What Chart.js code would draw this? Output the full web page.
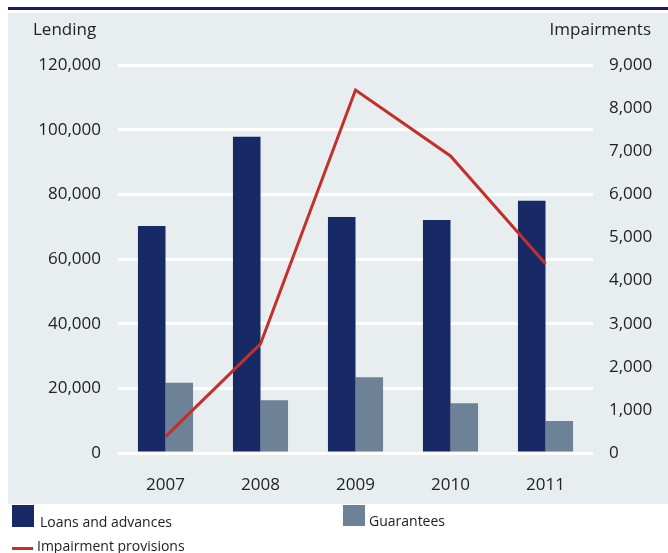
<!DOCTYPE html>
<html>
<head>
<meta charset="utf-8">
<script src="https://cdn.jsdelivr.net/npm/chart.js@4.4.0/dist/chart.umd.min.js"></script>
<style>
  html, body { margin: 0; padding: 0; background: #fff; }
  #wrap { position: relative; width: 668px; height: 553px; }
</style>
</head>
<body>
<div id="wrap"><canvas id="lendingChart" width="668" height="553"></canvas></div>
<script>
// Chart data
const years = ['2007', '2008', '2009', '2010', '2011'];
const loansAndAdvances = [70200, 97800, 73000, 72100, 78000];
const guarantees = [21700, 16300, 23400, 15400, 9900];
const impairmentProvisions = [380, 2530, 8420, 6890, 4390];
const lendingTicks = [0, 20000, 40000, 60000, 80000, 100000, 120000];
const impairmentTicks = [0, 1000, 2000, 3000, 4000, 5000, 6000, 7000, 8000, 9000];

const FONT = '"Open Sans", "Noto Sans", sans-serif';
const TEXT = '#222';
const NAVY = '#172a65';
const SLATE = '#6d8297';
const RED = '#c3302b';

// background panel, top rule, axis titles and legend
const decorPlugin = {
    id: 'decor',
    beforeDraw(chart) {
        const ctx = chart.ctx;
        ctx.save();
        ctx.fillStyle = '#fff';
        ctx.fillRect(0, 0, chart.width, chart.height);
        ctx.fillStyle = '#1c1b6f';
        ctx.fillRect(8, 7, 660, 3);
        ctx.fillStyle = '#e8edf0';
        ctx.fillRect(8, 13, 660, 491);
        ctx.restore();
    },
    afterDraw(chart) {
        const ctx = chart.ctx;
        ctx.save();
        ctx.fillStyle = TEXT;
        ctx.font = '17px ' + FONT;
        ctx.textBaseline = 'alphabetic';
        ctx.textAlign = 'left';
        ctx.fillText('Lending', 33, 35);
        ctx.textAlign = 'right';
        ctx.fillText('Impairments', 651, 35);

        const ds = chart.data.datasets;
        ctx.font = '14px ' + FONT;
        ctx.textAlign = 'left';
        ctx.fillStyle = ds[1].backgroundColor;
        ctx.fillRect(12, 505, 22, 22);
        ctx.fillStyle = TEXT;
        ctx.fillText(ds[1].label, 40, 527);
        ctx.fillStyle = ds[2].backgroundColor;
        ctx.fillRect(343, 505, 22, 21);
        ctx.fillStyle = TEXT;
        ctx.fillText(ds[2].label, 369, 526);
        ctx.fillStyle = ds[0].borderColor;
        ctx.fillRect(12, 547, 21, 3);
        ctx.fillStyle = TEXT;
        ctx.fillText(ds[0].label, 37, 551);
        ctx.restore();
    }
};

const ctxEl = document.getElementById('lendingChart').getContext('2d');
const chart = new Chart(ctxEl, {
    data: {
        labels: years,
        datasets: [
            {
                type: 'line',
                label: 'Impairment provisions',
                data: impairmentProvisions,
                yAxisID: 'y1',
                borderColor: RED,
                borderWidth: 3,
                pointRadius: 0,
                tension: 0,
                order: 0
            },
            {
                type: 'bar',
                label: 'Loans and advances',
                data: loansAndAdvances,
                yAxisID: 'y',
                backgroundColor: NAVY,
                categoryPercentage: 0.58,
                barPercentage: 1,
                order: 1
            },
            {
                type: 'bar',
                label: 'Guarantees',
                data: guarantees,
                yAxisID: 'y',
                backgroundColor: SLATE,
                categoryPercentage: 0.58,
                barPercentage: 1,
                order: 1
            }
        ]
    },
    options: {
        responsive: false,
        animation: false,
        layout: { padding: { top: 65, bottom: 49, left: 0, right: 0 } },
        plugins: {
            legend: { display: false },
            tooltip: { enabled: false }
        },
        scales: {
            x: {
                grid: { display: false, drawTicks: false },
                border: { display: false },
                ticks: { color: TEXT, font: { family: FONT, size: 17 }, padding: 22 },
                afterFit: s => { s.height = 51; }
            },
            y: {
                position: 'left',
                min: 0,
                max: 120000,
                afterBuildTicks: s => { s.ticks = lendingTicks.map(v => ({ value: v })); },
                grid: { color: '#fff', lineWidth: 3, drawTicks: false },
                border: { display: false },
                ticks: {
                    color: TEXT,
                    font: { family: FONT, size: 17 },
                    padding: 17,
                    callback: v => v.toLocaleString('en-US')
                },
                afterFit: s => { s.width = 118; }
            },
            y1: {
                position: 'right',
                min: 0,
                max: 9000,
                afterBuildTicks: s => { s.ticks = impairmentTicks.map(v => ({ value: v })); },
                grid: { display: false, drawTicks: false },
                border: { display: false },
                ticks: {
                    color: TEXT,
                    font: { family: FONT, size: 17 },
                    padding: 16,
                    callback: v => v.toLocaleString('en-US')
                },
                afterFit: s => { s.width = 75; }
            }
        }
    },
    plugins: [decorPlugin]
});
</script>
</body>
</html>
